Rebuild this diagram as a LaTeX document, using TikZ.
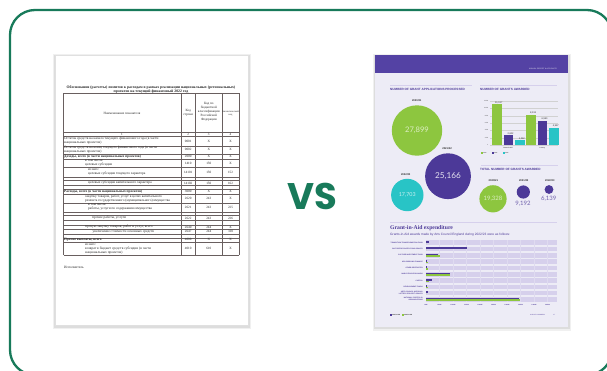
\documentclass[tikz,border=0pt]{standalone}
\usepackage{fontspec}
\newfontfamily\rufont{Liberation Serif}
\newfontfamily\sfx{Liberation Sans}
\newfontfamily\numfont{Lato}
\newfontfamily\vsfont{Poppins}
\definecolor{frameg}{RGB}{24,122,90}
\definecolor{acep}{RGB}{76,57,152}
\definecolor{aceh}{RGB}{84,66,164}
\definecolor{aceg}{RGB}{141,198,63}
\definecolor{acet}{RGB}{40,196,198}
\definecolor{acebg}{RGB}{237,236,246}
\definecolor{aceband}{RGB}{214,208,236}
\definecolor{tline}{RGB}{105,95,95}
\tikzset{
  rt/.style={font={\rufont\fontsize{3.5}{4}\selectfont}, inner sep=0, align=left, text=black!85},
  rc/.style={font={\rufont\fontsize{3.3}{4}\selectfont}, inner sep=0, text=black!85},
  hd/.style={font={\sfx\bfseries\fontsize{3.1}{3.5}\selectfont}, inner sep=0, text=acep, anchor=west},
  yr/.style={font={\sfx\bfseries\fontsize{2.6}{3}\selectfont}, inner sep=0, text=black!80},
  big/.style={font=\numfont, inner sep=0},
  tiny/.style={font={\sfx\fontsize{1.7}{2}\selectfont}, inner sep=0, text=black!70},
  rowlab/.style={font={\sfx\bfseries\fontsize{1.7}{2}\selectfont}, inner sep=0, text=acep, anchor=east, align=right},
  vallab/.style={font={\sfx\fontsize{2.4}{3}\selectfont}, inner sep=0, text=black!80, anchor=south},
}
\begin{document}
\begin{tikzpicture}[x=1pt,y=-1pt]
\useasboundingbox (0,0) rectangle (607,370);
\fill[white] (0,0) rectangle (607,370);
% outer frame
\begin{scope}
\clip (0,0) rectangle (607,370);
\draw[frameg, line width=2.3pt, rounded corners=25pt] (10,10) rectangle (612,375);
\end{scope}

% ================= LEFT DOCUMENT =================
\fill[black, opacity=0.06] (53,54) rectangle (251,329);
\fill[black, opacity=0.08] (54,55) rectangle (250,327.5);
\fill[white] (55,55) coordinate (ldtl) rectangle (248,325) coordinate (ldbr);
\draw[black!12, line width=0.3pt] (ldtl) rectangle (ldbr);

\node[font={\rufont\bfseries\fontsize{3.8}{4.3}\selectfont}, inner sep=0, align=center, text=black!85] (ltitle) at (151,89.3)
 {Обоснования (расчеты) лимитов к расходам в рамках реализации национальных (региональных)\\проектов на текущий финансовый 2022 год};

% table grid
\foreach \yy in {93.2,132.4,136.4,145.7,154,159,167.3,177.3,180.6,185.6,189.5,193.9,202.8,212.1,215.5,220.4,224.8,229.4,233.7,237.7,242,255.3}
  \draw[tline, line width=0.35pt] (63.5,\yy) -- (239,\yy);
\foreach \xx in {63.5,180.8,195.6,222,239}
  \draw[tline, line width=0.35pt] (\xx,93.2) -- (\xx,255.3);

% header
\node[rc] (h1) at (122,113) {Наименование показателя};
\node[rc, align=center] (h2) at (188.2,113) {Код\\строки};
\node[rc, align=center] (h3) at (208.8,112) {Код по\\бюджетной\\классификации\\Российской\\Федерации};
\node[rc, align=center, font={\rufont\fontsize{2.5}{3.2}\selectfont}] (h4) at (230.5,113) {Аналитический\\код};
\node[rc] (n1) at (122,134.4) {1};
\node[rc] (n2) at (188.2,134.4) {2};
\node[rc] (n3) at (208.8,134.4) {3};
\node[rc] (n4) at (230.5,134.4) {4};

% rows
\node[rt, anchor=west] (ra) at (64,141) {Остаток средств на начало текущего финансового года (в части\\национальных проектов)};
\node[rt, anchor=west] (rb) at (64,149.9) {Остаток средств на конец текущего финансового года (в части\\национальных проектов)};
\node[rt, anchor=west, font={\rufont\bfseries\fontsize{3.5}{4}\selectfont}] (rcc) at (64,156.5) {Доходы, всего (в части национальных проектов)};
\node[rt, anchor=west] (rd) at (85,163.2) {в том числе:\\целевые субсидии};
\node[rt, anchor=west] (re) at (88,172.3) {из них:\\целевые субсидии текущего характера};
\node[rt, anchor=west] (rg) at (88,183.1) {целевые субсидии капитального характера};
\node[rt, anchor=west, font={\rufont\bfseries\fontsize{3.5}{4}\selectfont}] (ri) at (64,191.7) {Расходы, всего (в части национальных проектов)};
\node[rt, anchor=west] (rj) at (85,198.4) {закупку товаров, работ, услуг в целях капитального\\ремонта государственного (муниципального) имущества};
\node[rt, anchor=west] (rk) at (88,207.5) {в том числе:\\работы, услуги по содержанию имущества};
\node[rt, anchor=west] (rm) at (92,218) {прочие работы, услуги};
\node[rt, anchor=west] (ro) at (85,227.1) {прочую закупку товаров, работ и услуг, всего};
\node[rt, anchor=west] (rp) at (92.5,231.6) {увеличение стоимости основных средств};
\node[rt, anchor=west, font={\rufont\bfseries\fontsize{3.5}{4}\selectfont}] (rr) at (64,239.9) {Прочие выплаты, всего};
\node[rt, anchor=west] (rs) at (85,248.7) {из них:\\возврат в бюджет средств субсидии (в части\\национальных проектов)};
\foreach \yy/\a/\b/\c in {141/0001/X/X,149.9/0002/X/X,156.5/2000/X/X,163.2/1410/150/X,172.3/14101/150/152,183.1/14102/150/162,191.7/3000/X/X,198.4/2620/243/X,207.5/2621/243/225,218/2622/243/226,227.1/2640/244/X,231.6/2647/244/310,239.9/4000/X/X,248.7/4010/610/X}{
  \node[rc] at (188.2,\yy) {\a};
  \node[rc] at (208.8,\yy) {\b};
  \node[rc] at (230.5,\yy) {\c};
}
\node[rt, anchor=west] (isp) at (64,267) {Исполнитель};

% ================= VS =================
\node[font={\vsfont\bfseries\fontsize{37}{40}\selectfont}, text=frameg, inner sep=0] (vs) at (312.5,196.5) {VS};

% ================= RIGHT DOCUMENT =================
\fill[black, opacity=0.06] (373,54) rectangle (571,331);
\fill[black, opacity=0.08] (374,55) rectangle (570,329);
\fill[acebg] (375,55) coordinate (rdtl) rectangle (568,327) coordinate (rdbr);
\fill[aceh] (375,55) rectangle (568,73);
\node[font={\sfx\fontsize{1.8}{2}\selectfont}, text=white!85!aceh, inner sep=0, anchor=east] (hdr) at (557,69) {ANNUAL REPORT \& ACCOUNTS};

% headings
\draw[aceband, line width=0.6pt] (390,85) -- (472,85);
\draw[aceband, line width=0.6pt] (480,85) -- (557,85);
\node[hd] (t1) at (390,89.3) {NUMBER OF GRANT APPLICATIONS PROCESSED};
\node[hd] (t2) at (480,89.3) {NUMBER OF GRANTS AWARDED};

% applications bubbles
\node[yr] (y1) at (416.7,100.7) {2020/21};
\fill[aceg] (417,130.5) circle (25.2);
\node[big, font={\numfont\fontsize{7.6}{8}\selectfont}, text=aceg!30!white] (b1) at (417,130.5) {27,899};
\node[yr] (y2) at (447,149) {2021/22};
\fill[acep] (448,176.2) circle (22.9);
\node[big, font={\numfont\fontsize{8.2}{9}\selectfont}, text=acep!15!white] (b2) at (448,176.2) {25,166};
\node[yr] (y3) at (405.7,175) {2022/23};
\fill[acet] (407.3,195) circle (16.2);
\node[big, font={\numfont\fontsize{5.4}{6}\selectfont}, text=acet!25!white] (b3) at (407.3,195) {17,703};

% bar chart
\foreach \v/\lab in {0/0,2000/2000,4000/4000,6000/6000,8000/8000,10000/10000,12000/12000}{
  \draw[black!18, line width=0.3pt] (490,{145-\v*0.0036667}) -- (558,{145-\v*0.0036667});
  \node[tiny, anchor=east, font={\sfx\fontsize{1.5}{2}\selectfont}] at (488.5,{145-\v*0.0036667}) {\lab};
}
\foreach \x/\v/\c/\lab in {492/11137/aceg/{11,137},503.7/2602/acep/{2,602},515/1262/acet/{1,262},526.4/8191/aceg/{8,191},537.7/6590/acep/{6,590},549/4587/acet/{4,587}}{
  \fill[\c] (\x,145) rectangle ({\x+9.6},{145-\v*0.0036667});
  \node[vallab] at ({\x+4.8+2},{144.3-\v*0.0036667}) {\lab};
}
\node[tiny, font={\sfx\bfseries\fontsize{1.6}{2}\selectfont}] (g1) at (508,147.7) {Grant-in-Aid};
\node[tiny, font={\sfx\bfseries\fontsize{1.6}{2}\selectfont}] (g2) at (542.4,147.7) {Lottery};
\foreach \x/\c/\lab in {481/aceg/2020/21,492/acep/2021/22,503/acet/2022/23}{
  \fill[\c] (\x,152.2) rectangle ({\x+1.6},153.8);
  \node[tiny, anchor=west, font={\sfx\bfseries\fontsize{1.4}{2}\selectfont}] at ({\x+2.2},153) {\lab};
}

% total grants
\draw[aceband, line width=0.6pt] (481,165) -- (558,165);
\node[hd] (t3) at (480,169.5) {TOTAL NUMBER OF GRANTS AWARDED};
\node[yr] (y4) at (493.4,180.6) {2020/21};
\node[yr] (y5) at (523.7,180.6) {2021/22};
\node[yr] (y6) at (549.8,180.6) {2022/23};
\fill[aceg] (493,198.8) circle (13.6);
\node[big, font={\numfont\fontsize{6}{7}\selectfont}, text=aceg!30!white] (c1) at (493,198.8) {19,328};
\fill[acep] (523.3,192) circle (6.6);
\node[big, font={\numfont\fontsize{6}{7}\selectfont}, text=acep!80!white] (c2) at (523,203.8) {9,192};
\fill[acep] (549,189.5) circle (4.4);
\node[big, font={\numfont\fontsize{6}{7}\selectfont}, text=acep!80!white] (c3) at (548.7,199) {6,139};

% grant in aid expenditure
\draw[aceband, line width=0.6pt] (390,222) -- (557,222);
\node[font={\rufont\bfseries\fontsize{5.7}{6}\selectfont}, text=acep, inner sep=0, anchor=west] (gt) at (390,228) {Grant-in-Aid expenditure};
\node[font={\sfx\fontsize{3.2}{4}\selectfont}, text=acep, inner sep=0, anchor=west] (gs) at (390,235) {Grants-in-Aid awards made by Arts Council England during 2022/23 were as follows:};

\foreach \i/\lab/\p/\g in {
 0/{TRANSITION TRANSFORMATION FUND}/428.5/426,
 1/{CULTURE RECOVERY FUND GRANTS}/467.3/426,
 2/{CULTURE INVESTMENT FUND}/438.3/440,
 3/{NPO BRIDGING FINANCE}/427.3/427.8,
 4/{OTHER RESTRICTED}/427/428,
 5/{MUSIC EDUCATION HUBS}/450/450,
 6/{CAPITAL}/431.7/429,
 7/{DEVELOPMENT FUNDS}/427.3/428,
 8/{ARTS COUNCIL NATIONAL\\LOTTERY PROJECT GRANTS}/428/426,
 9/{NATIONAL PORTFOLIO\\ORGANISATIONS}/519/520}{
  \pgfmathsetmacro\ry{242.7+6.3*\i}
  \fill[aceband] (426,\ry-2.3) rectangle (557,\ry+2.3);
}
\foreach \k in {1,...,9}
  \draw[aceband!60!acebg, line width=0.25pt] ({426+13.5*\k},240) -- ({426+13.5*\k},302);
\foreach \i/\lab/\p/\g in {
 0/{TRANSITION TRANSFORMATION FUND}/428.5/426,
 1/{CULTURE RECOVERY FUND GRANTS}/467.3/426,
 2/{CULTURE INVESTMENT FUND}/438.3/440,
 3/{NPO BRIDGING FINANCE}/427.3/427.8,
 4/{OTHER RESTRICTED}/427/428,
 5/{MUSIC EDUCATION HUBS}/450/450,
 6/{CAPITAL}/431.7/429,
 7/{DEVELOPMENT FUNDS}/427.3/428,
 8/{ARTS COUNCIL NATIONAL\\LOTTERY PROJECT GRANTS}/428/426,
 9/{NATIONAL PORTFOLIO\\ORGANISATIONS}/519/520}{
  \pgfmathsetmacro\ry{242.7+6.3*\i}
  \fill[acep] (426,\ry-1.7) rectangle (\p,\ry);
  \fill[aceg] (426,\ry) rectangle (\g,\ry+1.6);
  \node[rowlab] at (423,\ry) {\lab};
}
\foreach \k/\lab in {0/£0M,1/£50M,2/£100M,3/£150M,4/£200M,5/£250M,6/£300M,7/£350M,8/£400M,9/£450M}
  \node[tiny, font={\sfx\bfseries\fontsize{1.5}{2}\selectfont}, text=acep] at ({426+13.5*\k},304.8) {\lab};

% footer
\fill[acep] (390,313.9) rectangle (391.6,315.5);
\node[tiny, anchor=west, font={\sfx\bfseries\fontsize{1.5}{2}\selectfont}, text=black!80] (l1) at (392,314.7) {2021/22 £M};
\fill[aceg] (402,313.9) rectangle (403.6,315.5);
\node[tiny, anchor=west, font={\sfx\bfseries\fontsize{1.5}{2}\selectfont}, text=black!80] (l2) at (404,314.7) {2022/23 £M};
\node[tiny, anchor=west, font={\sfx\fontsize{1.5}{2}\selectfont}, text=acep] (ft) at (530,314.7) {OUR KEY NUMBERS};
\node[tiny, anchor=west, font={\sfx\fontsize{1.5}{2}\selectfont}, text=acep] (pg) at (553,314.7) {17};
\end{tikzpicture}
\end{document}
